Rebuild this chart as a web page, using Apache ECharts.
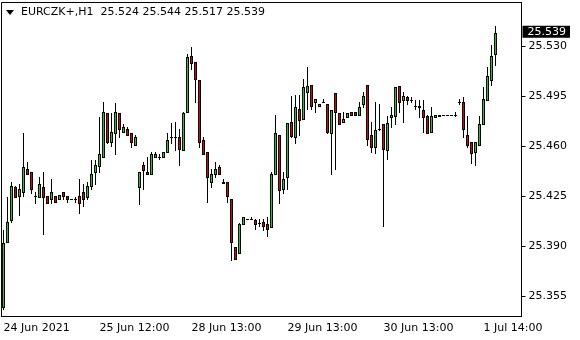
<!DOCTYPE html>
<html>
<head>
<meta charset="utf-8">
<script src="https://cdn.jsdelivr.net/npm/echarts@6/dist/echarts.min.js"></script>
<style>
  html, body { margin: 0; padding: 0; background: #fff; }
  #main { width: 580px; height: 340px; }
</style>
</head>
<body>
<div id="main"></div>
<script>
// EURCZK+ H1, candles as [open, close, low, high]
var symbolName = 'EURCZK+,H1';

// trading hours shown per day (Fri closes early, weekend skipped, last day incl. empty future slots)
var days = [
  ['24 Jun', 12, 23],
  ['25 Jun', 0, 21],
  ['28 Jun', 0, 23],
  ['29 Jun', 0, 23],
  ['30 Jun', 0, 23],
  ['1 Jul', 0, 23]
];

var tickIdx = [0, 24, 47, 71, 95, 120];
var tickLabels = ['24 Jun 2021', '25 Jun 12:00', '28 Jun 13:00', '29 Jun 13:00', '30 Jun 13:00', '1 Jul 14:00'];

var priceTicks = [25.355, 25.390, 25.425, 25.460, 25.495, 25.530];

var candles = [
  [25.347, 25.392, 25.346, 25.401],
  [25.393, 25.407, 25.393, 25.424],
  [25.408, 25.432, 25.407, 25.435],
  [25.431, 25.424, 25.424, 25.432],
  [25.425, 25.430, 25.412, 25.433],
  [25.428, 25.445, 25.425, 25.469],
  [25.444, 25.440, 25.440, 25.449],
  [25.442, 25.430, 25.427, 25.442],
  [25.425, 25.425, 25.420, 25.428],
  [25.424, 25.433, 25.424, 25.438],
  [25.431, 25.424, 25.398, 25.442],
  [25.425, 25.420, 25.420, 25.425],
  [25.423, 25.428, 25.420, 25.437],
  [25.425, 25.421, 25.421, 25.425],
  [25.423, 25.426, 25.423, 25.426],
  [25.428, 25.425, 25.423, 25.428],
  [25.425, 25.423, 25.421, 25.425],
  [25.423, 25.423, 25.423, 25.423],
  [25.423, 25.423, 25.421, 25.424],
  [25.425, 25.420, 25.413, 25.437],
  [25.428, 25.423, 25.418, 25.433],
  [25.424, 25.432, 25.423, 25.435],
  [25.432, 25.440, 25.430, 25.450],
  [25.442, 25.447, 25.433, 25.450],
  [25.446, 25.454, 25.442, 25.480],
  [25.452, 25.484, 25.452, 25.491],
  [25.483, 25.463, 25.462, 25.483],
  [25.463, 25.470, 25.460, 25.483],
  [25.469, 25.484, 25.454, 25.490],
  [25.483, 25.472, 25.466, 25.483],
  [25.470, 25.473, 25.470, 25.475],
  [25.472, 25.468, 25.468, 25.473],
  [25.469, 25.463, 25.459, 25.469],
  [25.461, 25.466, 25.461, 25.468],
  [25.431, 25.442, 25.419, 25.442],
  [25.447, 25.443, 25.430, 25.449],
  [25.442, 25.440, 25.440, 25.452],
  [25.440, 25.454, 25.440, 25.456],
  [25.452, 25.454, 25.452, 25.456],
  [25.452, 25.452, 25.451, 25.454],
  [25.452, 25.456, 25.452, 25.456],
  [25.456, 25.464, 25.456, 25.469],
  [25.466, 25.466, 25.462, 25.476],
  [25.466, 25.466, 25.457, 25.477],
  [25.466, 25.458, 25.447, 25.472],
  [25.457, 25.483, 25.457, 25.484],
  [25.484, 25.522, 25.484, 25.524],
  [25.523, 25.518, 25.514, 25.529],
  [25.519, 25.507, 25.491, 25.519],
  [25.506, 25.463, 25.459, 25.506],
  [25.464, 25.454, 25.454, 25.466],
  [25.456, 25.438, 25.421, 25.456],
  [25.435, 25.440, 25.431, 25.444],
  [25.440, 25.444, 25.438, 25.449],
  [25.445, 25.440, 25.440, 25.447],
  [25.435, 25.434, 25.434, 25.437],
  [25.435, 25.425, 25.421, 25.435],
  [25.423, 25.393, 25.380, 25.423],
  [25.389, 25.381, 25.381, 25.389],
  [25.385, 25.405, 25.385, 25.406],
  [25.405, 25.410, 25.405, 25.410],
  [25.409, 25.409, 25.409, 25.409],
  [25.409, 25.409, 25.409, 25.410],
  [25.408, 25.405, 25.402, 25.409],
  [25.406, 25.406, 25.404, 25.409],
  [25.407, 25.404, 25.401, 25.409],
  [25.405, 25.402, 25.397, 25.410],
  [25.403, 25.440, 25.403, 25.442],
  [25.440, 25.469, 25.440, 25.482],
  [25.468, 25.429, 25.420, 25.468],
  [25.430, 25.437, 25.427, 25.442],
  [25.438, 25.476, 25.430, 25.476],
  [25.477, 25.467, 25.466, 25.495],
  [25.466, 25.487, 25.462, 25.496],
  [25.486, 25.478, 25.468, 25.496],
  [25.479, 25.501, 25.479, 25.507],
  [25.498, 25.502, 25.486, 25.515],
  [25.503, 25.488, 25.486, 25.503],
  [25.491, 25.493, 25.484, 25.493],
  [25.488, 25.489, 25.488, 25.489],
  [25.491, 25.491, 25.491, 25.493],
  [25.489, 25.470, 25.469, 25.489],
  [25.469, 25.485, 25.440, 25.485],
  [25.497, 25.484, 25.444, 25.497],
  [25.483, 25.475, 25.475, 25.483],
  [25.477, 25.479, 25.477, 25.484],
  [25.480, 25.483, 25.480, 25.483],
  [25.484, 25.482, 25.482, 25.484],
  [25.484, 25.482, 25.482, 25.484],
  [25.482, 25.487, 25.482, 25.491],
  [25.489, 25.495, 25.487, 25.498],
  [25.503, 25.465, 25.461, 25.503],
  [25.468, 25.459, 25.456, 25.477],
  [25.459, 25.471, 25.455, 25.491],
  [25.472, 25.472, 25.471, 25.489],
  [25.475, 25.458, 25.404, 25.475],
  [25.457, 25.476, 25.451, 25.481],
  [25.480, 25.482, 25.473, 25.487],
  [25.481, 25.501, 25.475, 25.501],
  [25.502, 25.491, 25.484, 25.502],
  [25.492, 25.495, 25.477, 25.498],
  [25.494, 25.492, 25.489, 25.495],
  [25.492, 25.492, 25.491, 25.494],
  [25.488, 25.488, 25.486, 25.492],
  [25.488, 25.487, 25.480, 25.492],
  [25.485, 25.480, 25.470, 25.492],
  [25.481, 25.469, 25.469, 25.482],
  [25.470, 25.481, 25.470, 25.487],
  [25.480, 25.482, 25.480, 25.482],
  [25.481, 25.482, 25.481, 25.482],
  [25.482, 25.482, 25.482, 25.482],
  [25.482, 25.482, 25.482, 25.482],
  [25.482, 25.482, 25.482, 25.482],
  [25.482, 25.482, 25.481, 25.484],
  [25.491, 25.491, 25.489, 25.493],
  [25.491, 25.472, 25.466, 25.494],
  [25.468, 25.461, 25.459, 25.481],
  [25.463, 25.455, 25.448, 25.463],
  [25.456, 25.463, 25.447, 25.463],
  [25.461, 25.475, 25.461, 25.481],
  [25.475, 25.493, 25.475, 25.501],
  [25.492, 25.509, 25.492, 25.515],
  [25.506, 25.523, 25.503, 25.531],
  [25.524, 25.539, 25.517, 25.544]
];

var categories = [];
days.forEach(function (d) {
  for (var h = d[1]; h <= d[2]; h++) {
    categories.push(d[0] + ' ' + (h < 10 ? '0' : '') + h + ':00');
  }
});

var last = candles[candles.length - 1];
var font = 'DejaVu Sans';
var upColor = '#00e000';
var downColor = '#e00000';

// one row per bar: [index, open, close, low, high]
var bars = candles.map(function (c, i) { return [i, c[0], c[1], c[2], c[3]]; });

function box(x, y, w, h, fill) {
  return { type: 'rect', shape: { x: x, y: y, width: w, height: h }, style: { fill: fill } };
}

// MT4 style candle from pixel-aligned pieces: wick, black frame, coloured core
function renderCandle(params, api) {
  var i = api.value(0);
  var pO = api.coord([i, api.value(1)]);
  var pC = api.coord([i, api.value(2)]);
  var pL = api.coord([i, api.value(3)]);
  var pH = api.coord([i, api.value(4)]);
  var f = Math.floor(pO[0]);
  var yTop = Math.round(Math.min(pO[1], pC[1]));
  var yBot = Math.round(Math.max(pO[1], pC[1]));
  var yHi = Math.min(Math.round(pH[1]), yTop);
  var yLo = Math.max(Math.round(pL[1]), yBot);
  var kids = [];
  if (yTop > yHi) kids.push(box(f, yHi, 1, yTop - yHi, '#000'));
  if (yLo > yBot) kids.push(box(f, yBot + 1, 1, yLo - yBot, '#000'));
  if (yBot - yTop < 2) {
    kids.push(box(f - 1, yTop, 3, yBot - yTop + 1, '#000'));
  } else {
    var h = yBot - yTop + 1;
    kids.push(box(f - 1, yTop, 1, h, '#000'));
    kids.push(box(f + 1, yTop, 1, h, '#000'));
    kids.push(box(f, yTop, 1, 1, '#000'));
    kids.push(box(f, yBot, 1, 1, '#000'));
    kids.push(box(f, yTop + 1, 1, h - 2, api.value(2) > api.value(1) ? upColor : downColor));
  }
  return { type: 'group', children: kids };
}

var myChart = echarts.init(document.getElementById('main'));
var option = {
  animation: false,
  backgroundColor: '#fff',
  textStyle: { fontFamily: font },
  grid: {
    left: 1.5, right: 58.5, top: 2.5, bottom: 23.5,
    show: true, borderColor: '#000', borderWidth: 1, backgroundColor: '#fff'
  },
  xAxis: {
    type: 'category',
    data: categories,
    boundaryGap: true,
    axisLine: { lineStyle: { color: '#000', width: 1 } },
    axisTick: {
      alignWithLabel: true, length: 4, lineStyle: { color: '#000' },
      interval: function (i) { return tickIdx.indexOf(i) >= 0; }
    },
    axisLabel: {
      interval: function (i) { return tickIdx.indexOf(i) >= 0; },
      formatter: function (v, i) { var k = tickIdx.indexOf(i); return k >= 0 ? tickLabels[k] : ''; },
      align: 'left', margin: 6, color: '#000', fontSize: 11, fontFamily: font
    },
    splitLine: { show: false }
  },
  yAxis: {
    type: 'value',
    position: 'right',
    scale: true,
    min: 25.3406,
    max: 25.5604,
    axisLine: { show: true, lineStyle: { color: '#000' } },
    axisTick: { show: true, length: 4, lineStyle: { color: '#000' }, customValues: priceTicks },
    axisLabel: {
      customValues: priceTicks, margin: 7, color: '#000', fontSize: 11, fontFamily: font,
      formatter: function (v) { return v.toFixed(3); }
    },
    splitLine: { show: false }
  },
  series: [{
    type: 'custom',
    data: bars,
    encode: { x: 0, y: [1, 2, 3, 4] },
    renderItem: renderCandle,
    markLine: {
      silent: true,
      symbol: 'none',
      lineStyle: { color: 'rgba(0,0,0,0)', width: 1 },
      label: {
        show: true,
        position: 'end', distance: 1,
        formatter: last[1].toFixed(3),
        color: '#fff', backgroundColor: '#000',
        fontSize: 11, fontFamily: font, padding: [1, 4, 0, 5]
      },
      data: [{ yAxis: last[1] }]
    }
  }],
  graphic: [
    { type: 'polygon', shape: { points: [[6, 10], [14, 10], [10, 15]] }, style: { fill: '#000' } },
    {
      type: 'text', left: 21, top: 7,
      style: {
        text: symbolName + '  ' + last[0].toFixed(3) + ' ' + last[3].toFixed(3) + ' ' + last[2].toFixed(3) + ' ' + last[1].toFixed(3),
        fill: '#000', font: '11px ' + font
      }
    }
  ]
};
myChart.setOption(option);
</script>
</body>
</html>
